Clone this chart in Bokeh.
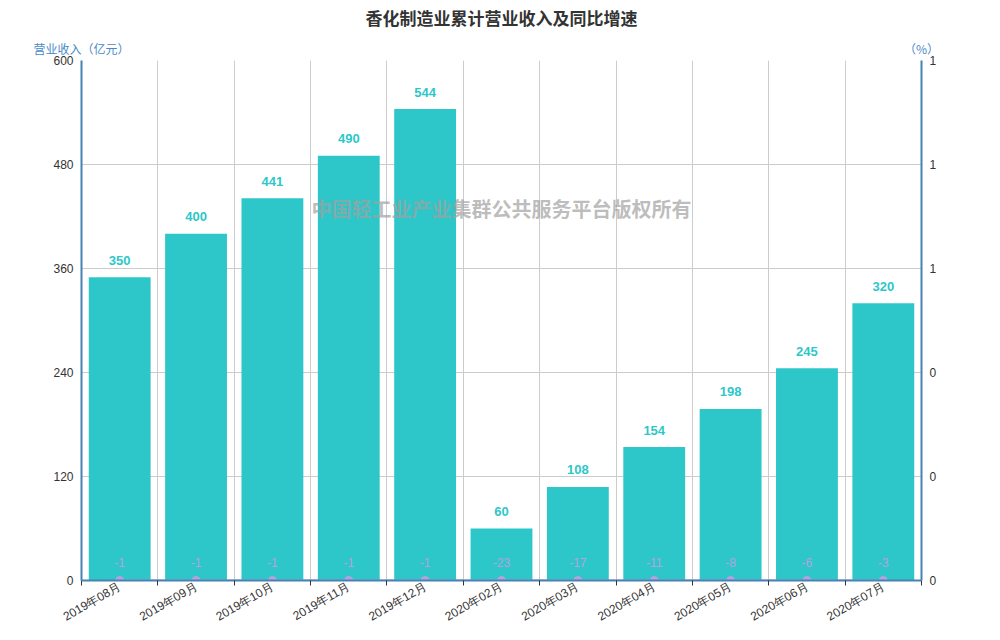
import numpy as np
from bokeh.plotting import figure
from bokeh.models import (ColumnDataSource, Range1d, LinearAxis, FixedTicker,
                          NumeralTickFormatter, Label)
from bokeh.core.properties import value
from bokeh.embed import file_html
from bokeh.resources import INLINE

# ---- data ----
months = ["2019年08月", "2019年09月", "2019年10月", "2019年11月", "2019年12月",
          "2020年02月", "2020年03月", "2020年04月", "2020年05月", "2020年06月",
          "2020年07月"]
revenue = [350, 400, 441, 490, 544, 60, 108, 154, 198, 245, 320]
growth = [-1, -1, -1, -1, -1, -23, -17, -11, -8, -6, -3]
left_ticks = [0, 120, 240, 360, 480, 600]
right_ticks = [0, 0.2, 0.4, 0.6, 0.8, 1.0]

title_text = "香化制造业累计营业收入及同比增速"
left_name = "营业收入（亿元）"
right_name = "（%）"
watermark = "中国轻工业产业集群公共服务平台版权所有"

BAR = "#2ec7c9"
LINE = "#b6a2de"
AXIS = "#4682b4"
NAME = "#4a8ac6"
CJK = "Noto Sans CJK SC"

n = len(months)
idx = list(range(n))
y2_min, y2_max = right_ticks[0], right_ticks[-1]
src = ColumnDataSource(dict(
    x=idx,
    rev=revenue,
    rev_txt=[str(v) for v in revenue],
    g_plot=[min(max(v, y2_min), y2_max) for v in growth],
    g_txt=[str(v) for v in growth],
))

p = figure(width=992, height=632, output_backend="svg", toolbar_location=None,
           title=None,
           x_range=Range1d(-0.5, n - 0.5), y_range=Range1d(left_ticks[0], left_ticks[-1]),
           min_border_left=81, min_border_right=71, min_border_top=60,
           min_border_bottom=52)
p.outline_line_color = None
p.background_fill_color = "white"
p.border_fill_color = "white"
p.extra_y_ranges = {"y2": Range1d(y2_min, y2_max)}

# x axis: labels at centres, ticks at boundaries
xa = p.xaxis[0]
xa.ticker = FixedTicker(ticks=idx, minor_ticks=[i - 0.5 for i in range(n + 1)])
xa.major_label_overrides = {i: m for i, m in enumerate(months)}
xa.major_label_orientation = np.pi / 6
xa.major_tick_line_color = None
xa.major_tick_out = 0
xa.major_tick_in = 0
xa.minor_tick_in = 0
xa.minor_tick_out = 5
xa.minor_tick_line_color = "#333333"
xa.axis_line_color = AXIS
xa.axis_line_width = 2
xa.major_label_text_font = "Liberation Sans"
xa.major_label_text_font_size = "12px"
xa.major_label_text_color = "#333333"
xa.major_label_standoff = 0

# axis names row above the frame, chart title as its label
na = LinearAxis(ticker=FixedTicker(ticks=[-0.5, n - 0.5]))
na.major_label_overrides = {-0.5: left_name, n - 0.5: right_name}
na.axis_line_color = None
na.major_tick_line_color = None
na.minor_tick_line_color = None
na.major_tick_out = 0
na.major_tick_in = 0
na.major_label_standoff = 4
na.major_label_text_font = CJK
na.major_label_text_font_size = "12px"
na.major_label_text_color = NAME
na.axis_label = title_text
na.axis_label_standoff = 7
na.axis_label_text_font = CJK
na.axis_label_text_font_style = "bold"
na.axis_label_text_font_size = "17px"
na.axis_label_text_color = "#333333"
p.add_layout(na, "above")

ya = p.yaxis[0]
ya.ticker = FixedTicker(ticks=left_ticks)
ya.major_tick_out = 0
ya.major_tick_in = 0
ya.minor_tick_line_color = None
ya.axis_line_color = AXIS
ya.axis_line_width = 2
ya.major_label_text_font = "Liberation Sans"
ya.major_label_text_font_size = "12px"
ya.major_label_text_color = "#333333"
ya.major_label_standoff = 8

ra = LinearAxis(y_range_name="y2", ticker=FixedTicker(ticks=right_ticks),
                formatter=NumeralTickFormatter(format="0"))
ra.major_tick_out = 0
ra.major_tick_in = 0
ra.minor_tick_line_color = None
ra.axis_line_color = AXIS
ra.axis_line_width = 2
ra.major_label_text_font = "Liberation Sans"
ra.major_label_text_font_size = "12px"
ra.major_label_text_color = "#333333"
ra.major_label_standoff = 8
p.add_layout(ra, "right")

p.xgrid.grid_line_color = None
p.xgrid.minor_grid_line_color = "#cccccc"
p.xgrid.ticker = xa.ticker
p.ygrid.grid_line_color = "#cccccc"
p.ygrid.ticker = ya.ticker

# bars
p.vbar(x="x", top="rev", width=0.81, bottom=0, source=src, fill_color=BAR,
       line_color=None)
p.text(x="x", y="rev", text="rev_txt", source=src, text_align="center",
       text_baseline="middle", y_offset=-17, text_color=BAR,
       text_font=value("Liberation Sans"), text_font_style="bold",
       text_font_size="13px")

# line (growth rate, clamped to the right axis range)
p.line(x="x", y="g_plot", source=src, y_range_name="y2", line_color=LINE,
       line_width=2)
p.scatter(x="x", y="g_plot", source=src, y_range_name="y2", size=8,
          fill_color=LINE, line_color=LINE)
p.text(x="x", y="g_plot", text="g_txt", source=src, y_range_name="y2",
       text_align="center", text_baseline="middle", y_offset=-18,
       text_color=LINE, text_font=value("Liberation Sans"),
       text_font_size="12px")

# watermark
px_per_unit = 520 / (left_ticks[-1] - left_ticks[0])
p.add_layout(Label(x=(n - 1) / 2, y=372 / px_per_unit,
                   text=watermark, text_align="center", text_baseline="middle",
                   text_font=CJK, text_font_style="bold", text_font_size="20px",
                   text_color="#a0a0a0", text_alpha=0.7))

open("out.html", "w").write(file_html(p, INLINE))
